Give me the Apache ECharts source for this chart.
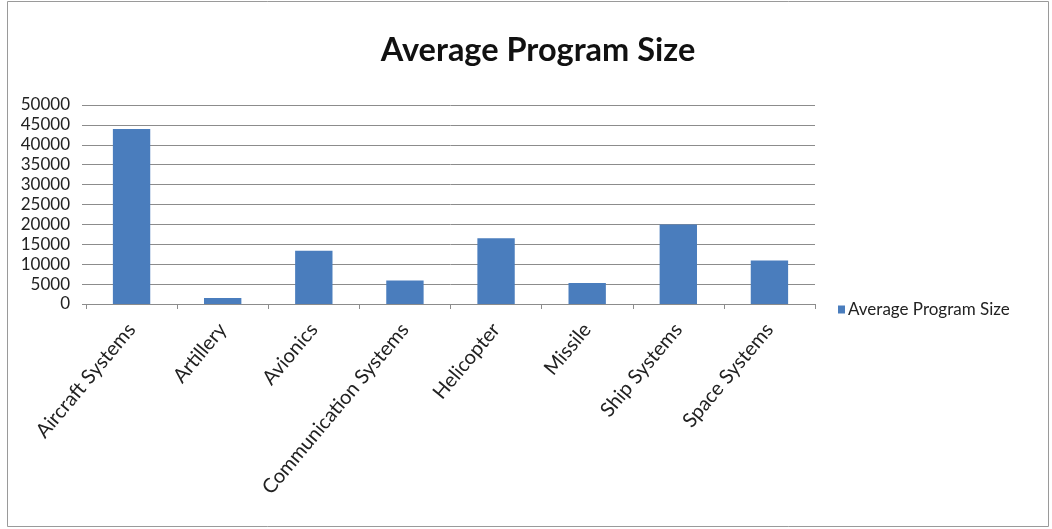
<!DOCTYPE html>
<html>
<head>
<meta charset="utf-8">
<script src="https://cdn.jsdelivr.net/npm/echarts@6/dist/echarts.min.js"></script>
<style>
  html, body { margin: 0; padding: 0; background: #ffffff; }
  #chart { width: 1052px; height: 529px; }
</style>
</head>
<body>
<div id="chart"></div>
<script>
// Program categories and their average size
const categories = [
  'Aircraft Systems', 'Artillery', 'Avionics', 'Communication Systems',
  'Helicopter', 'Missile', 'Ship Systems', 'Space Systems'
];
const averageProgramSize = [44000, 1500, 13400, 5900, 16500, 5300, 20000, 10900];
const seriesName = 'Average Program Size';
const chartTitle = 'Average Program Size';

const FONT = 'Lato, "Open Sans", sans-serif';

const chart = echarts.init(document.getElementById('chart'), null, { renderer: 'canvas' });

chart.setOption({
  animation: false,
  backgroundColor: '#ffffff',
  title: {
    text: chartTitle,
    left: 533,
    top: 29,
    textAlign: 'center',
    textStyle: { fontFamily: FONT, fontSize: 32.5, fontWeight: 'bold', color: '#111111' }
  },
  legend: {
    data: [seriesName],
    left: 833,
    top: 296,
    orient: 'vertical',
    icon: 'rect',
    itemWidth: 7,
    itemHeight: 8,
    itemGap: 4,
    textStyle: { fontFamily: FONT, fontSize: 17, color: '#222222', padding: [0, 0, 0, -2] }
  },
  grid: { left: 86, right: 237, top: 105, bottom: 225, containLabel: false },
  xAxis: {
    type: 'category',
    data: categories,
    axisLine: { show: true, lineStyle: { color: '#8c8c8c', width: 1 } },
    axisTick: { show: true, length: 5, alignWithLabel: false, lineStyle: { color: '#8c8c8c' } },
    axisLabel: {
      interval: 0,
      rotate: 50,
      margin: 22,
      fontFamily: FONT,
      fontSize: 20,
      color: '#222222'
    }
  },
  yAxis: {
    type: 'value',
    min: 0,
    max: 50000,
    interval: 5000,
    axisLine: { show: false },
    axisTick: { show: true, length: 4, lineStyle: { color: '#8c8c8c' } },
    splitLine: { show: true, lineStyle: { color: '#8c8c8c', width: 1 } },
    axisLabel: {
      margin: 16,
      fontFamily: FONT,
      fontSize: 17,
      color: '#222222',
      formatter: (v) => String(v)
    }
  },
  series: [{
    name: seriesName,
    type: 'bar',
    data: averageProgramSize,
    barWidth: '41%',
    itemStyle: { color: '#4a7dbd' }
  }],
  graphic: [{
    type: 'rect',
    shape: { x: 7.5, y: 1.5, width: 1041, height: 525 },
    style: { fill: null, stroke: '#9a9a9a', lineWidth: 1 },
    silent: true
  }]
});
</script>
</body>
</html>
